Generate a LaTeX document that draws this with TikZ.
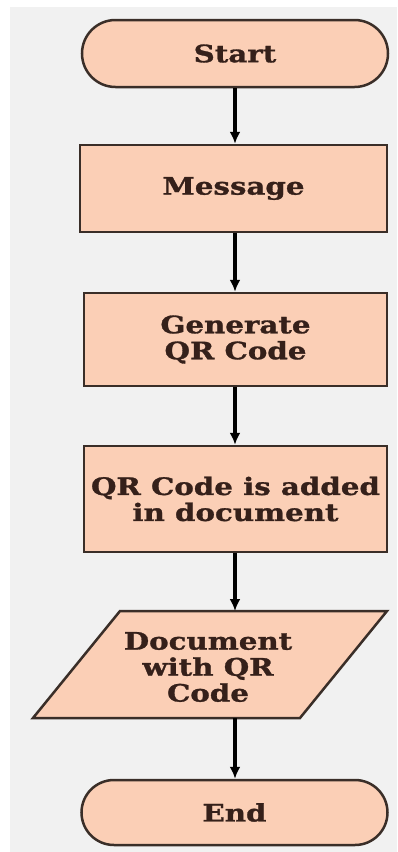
\documentclass[tikz,border=0pt]{standalone}
\usepackage{fontspec}
\setmainfont{DejaVu Serif}[BoldFeatures={FakeStretch=1.22,FakeBold=1.2}]
\usetikzlibrary{shapes.misc,arrows.meta}
\definecolor{bgc}{HTML}{F1F1F1}
\definecolor{peach}{HTML}{FBCFB6}
\definecolor{edge}{HTML}{3A2E28}
\definecolor{txt}{HTML}{35201A}
\tikzset{
  base/.style={draw=edge, line width=2.5pt, fill=peach, text=txt, align=center,
    font=\fontsize{24}{26}\selectfont\bfseries, inner sep=0pt},
  term/.style={base, rounded rectangle},
  proc/.style={base, rectangle},
  txtonly/.style={text=txt, align=center, font=\fontsize{24}{26}\selectfont\bfseries, inner sep=0pt},
  flow/.style={draw=black, line width=3.2pt, -{Latex[length=12pt,width=11pt]}}
}
\begin{document}
\begin{tikzpicture}[x=1pt,y=-1pt]
\useasboundingbox (0,0) rectangle (397,852);
\fill[white] (0,0) rectangle (397,852);
\fill[bgc] (10,7) rectangle (397,852);
\node[term, minimum width=306pt, minimum height=67pt] (start) at (235,53.5) {Start};
\node[proc, minimum width=307pt, minimum height=87pt] (msg) at (233.5,188.5) {Message};
\node[proc, minimum width=303pt, minimum height=93pt] (gen) at (235.5,339.5) {Generate\\QR Code};
\node[proc, minimum width=303pt, minimum height=106pt] (add) at (235.5,499) {QR Code is added\\in document};
\draw[draw=edge, line width=2.5pt, fill=peach, line join=miter] (120,611) -- (387,611) -- (300,718) -- (33,718) -- cycle;
\node[txtonly] (doc) at (208,667) {Document\\with QR\\Code};
\coordinate (doctop) at (235,611);
\coordinate (docbot) at (235,718);
\node[term, minimum width=306pt, minimum height=65pt] (end) at (234.5,812.5) {End};
\draw[flow] (start.south) -- (start.south |- msg.north);
\draw[flow] (msg.south -| start.south) -- (start.south |- gen.north);
\draw[flow] (gen.south -| start.south) -- (start.south |- add.north);
\draw[flow] (add.south -| doctop) -- (doctop);
\draw[flow] (docbot) -- (docbot |- end.north);
\end{tikzpicture}
\end{document}
